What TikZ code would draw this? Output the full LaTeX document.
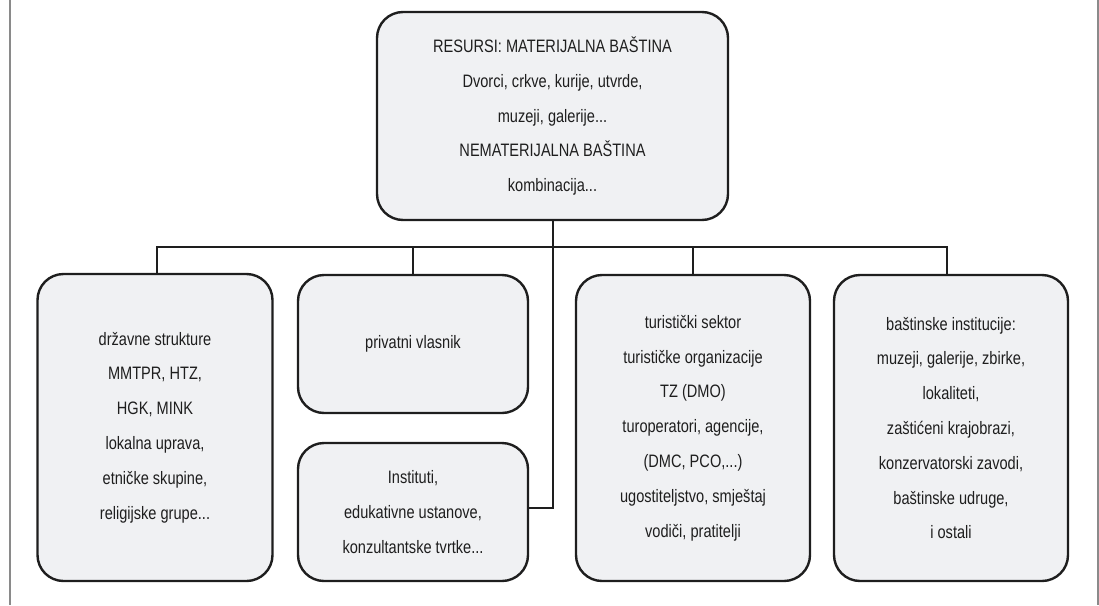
\documentclass[tikz,border=0pt]{standalone}
\usepackage{fontspec}
\setmainfont{Liberation Sans}[FakeStretch=0.81]
\usetikzlibrary{calc}
\definecolor{boxfill}{HTML}{F0F1F3}
\definecolor{ink}{HTML}{1E1E1E}
\definecolor{framegray}{HTML}{8A8A8A}
\tikzset{
  rbox/.style={draw=ink, line width=2.4pt, fill=boxfill, rounded corners=26pt,
    align=center, text=ink, inner sep=0pt, anchor=center,
    font={\fontsize{18}{34.8}\selectfont}},
  conn/.style={draw=ink, line width=2pt},
  frameline/.style={draw=framegray, line width=1.5pt}
}
\begin{document}
\begin{tikzpicture}[x=1pt,y=-1pt]
\useasboundingbox (0,0) rectangle (1099,605);
\draw[frameline] (10,0) -- (10,605);
\draw[frameline] (1098,0) -- (1098,605);

\node[rbox, minimum width=351pt, minimum height=208pt] (top) at (552.5,116)
  {RESURSI: MATERIJALNA BAŠTINA\\Dvorci, crkve, kurije, utvrde,\\muzeji, galerije...\\NEMATERIJALNA BAŠTINA\\kombinacija...};

\node[rbox, minimum width=235pt, minimum height=307pt] (b1) at (155,427.5)
  {državne strukture\\MMTPR, HTZ,\\HGK, MINK\\lokalna uprava,\\etničke skupine,\\religijske grupe...};

\node[rbox, minimum width=230pt, minimum height=138pt] (b2) at (413,344)
  {privatni vlasnik};

\node[rbox, minimum width=230pt, minimum height=138pt] (b3) at (413,512)
  {Instituti,\\edukativne ustanove,\\konzultantske tvrtke...};

\node[rbox, minimum width=234pt, minimum height=306pt] (b4) at (693,428)
  {turistički sektor\\turističke organizacije\\TZ (DMO)\\turoperatori, agencije,\\(DMC, PCO,...)\\ugostiteljstvo, smještaj\\vodiči, pratitelji};

\node[rbox, minimum width=234pt, minimum height=306pt] (b5) at (951,428)
  {baštinske institucije:\\muzeji, galerije, zbirke,\\lokaliteti,\\zaštićeni krajobrazi,\\konzervatorski zavodi,\\baštinske udruge,\\i ostali};

\coordinate (busL) at (157,247);
\coordinate (busR) at (947,247);
\coordinate (b3c) at ($(b3.east)+(0,-4)$);
\draw[conn] (b1.north -| busL) -- (busL) -- (busR) -- (b5.north -| busR);
\draw[conn] (b2.north) -- (b2.north |- busL);
\draw[conn] (b4.north) -- (b4.north |- busL);
\draw[conn] (top.south) -- (top.south |- b3c) -- (b3c);
\end{tikzpicture}
\end{document}
